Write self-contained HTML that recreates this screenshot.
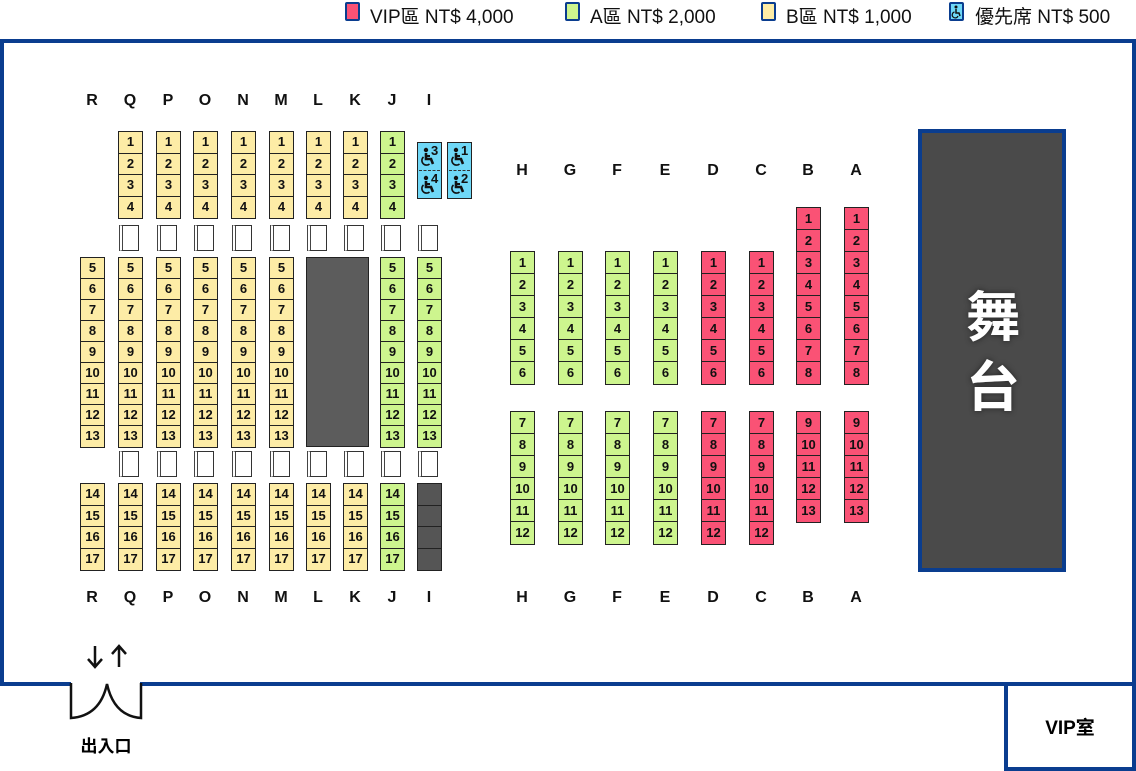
<!DOCTYPE html>
<html><head><meta charset="utf-8">
<style>
html,body{margin:0;padding:0;background:#fff;}
#c{position:relative;width:1136px;height:771px;overflow:hidden;font-family:"Liberation Sans","Noto Sans CJK TC",sans-serif;}
.a{position:absolute;box-sizing:border-box;}
.s{position:absolute;box-sizing:border-box;border:1.5px solid #222;font-size:13px;font-weight:bold;text-align:center;color:#111;}
.lbl{position:absolute;font-size:16px;font-weight:bold;width:30px;text-align:center;color:#111;}
.ch{position:absolute;box-sizing:border-box;width:20px;height:26px;border:1.5px solid #333;border-left:4px double #444;background:#fff;}
.lg{position:absolute;top:2px;font-size:19px;color:#111;white-space:nowrap;}
.sq{position:absolute;top:2px;width:15px;height:19px;border:2px solid #0a3d8f;border-radius:2px;box-sizing:border-box;}
</style></head><body><div id="c">
<div class="sq" style="left:345px;background:#fa5275"></div><div class="lg" style="left:370px">VIP區 NT$ 4,000</div>
<div class="sq" style="left:565px;background:#cdf58e"></div><div class="lg" style="left:590px">A區 NT$ 2,000</div>
<div class="sq" style="left:761px;background:#fdeca6"></div><div class="lg" style="left:786px">B區 NT$ 1,000</div>
<div class="sq" style="left:949px;background:#6fd8f7"><svg width="11" height="15" viewBox="0 0 11 15" style="position:absolute;left:0;top:0"><circle cx="5" cy="3" r="1.5" fill="#111"/><path d="M5 5 V9 H8 L9 12" stroke="#111" stroke-width="1.5" fill="none"/><path d="M3.5 8 A3 3 0 1 0 7 12" stroke="#111" stroke-width="1.2" fill="none"/></svg></div><div class="lg" style="left:975px">優先席 NT$ 500</div>
<div class="a" style="left:0;top:39px;width:1136px;height:4px;background:#0a3d8f"></div>
<div class="a" style="left:0;top:39px;width:4px;height:647px;background:#0a3d8f"></div>
<div class="a" style="left:1132px;top:39px;width:4px;height:732px;background:#0a3d8f"></div>
<div class="a" style="left:0;top:682px;width:71px;height:4px;background:#0a3d8f"></div>
<div class="a" style="left:140px;top:682px;width:996px;height:4px;background:#0a3d8f"></div>
<div class="a" style="left:1004px;top:682px;width:4px;height:89px;background:#0a3d8f"></div>
<div class="a" style="left:1004px;top:767px;width:132px;height:4px;background:#0a3d8f"></div>
<div class="a" style="left:1008px;top:713px;width:124px;text-align:center;font-size:19px;font-weight:bold">VIP室</div>
<svg class="a" style="left:0;top:640px" width="200" height="131">
<path d="M71 43 V78 Q100 76 107 44 Q114 76 141 78 V43" fill="none" stroke="#111" stroke-width="2.5"/>
<path d="M95 6 V27 M88 19 L95 27 L102 19 M119 27 V6 M112 14 L119 6 L126 14" fill="none" stroke="#111" stroke-width="2.5"/>
<text x="106" y="112" text-anchor="middle" font-size="17" font-weight="bold" font-family="Liberation Sans,Noto Sans CJK TC,sans-serif">出入口</text>
</svg>
<div class="a" style="left:918px;top:129px;width:148px;height:443px;background:#4a4a4a;border:4px solid #0a3d8f"></div>
<div class="a" style="left:940px;top:278px;width:106px;text-align:center;color:#fff;font-size:54px;font-weight:bold;line-height:70px;font-family:'Noto Sans CJK TC',sans-serif;text-shadow:0 0 6px #222">舞<br>台</div>
</div>
<script>
var c=document.getElementById('c');
function add(h){c.insertAdjacentHTML('beforeend',h);}
var Y='#fdeca6',G='#cdf58e',R='#fa5275',B='#6fd8f7';
function col(cx,y0,from,to,h,color){
  for(var i=from;i<=to;i++){var y=y0+(i-from)*h;
    add('<div class="s" style="left:'+(cx-12)+'px;top:'+y+'px;width:25px;height:'+(h+1.5)+'px;line-height:'+(h-1)+'px;background:'+color+'">'+i+'</div>');}
}
var L=['R','Q','P','O','N','M','L','K','J','I'];
var LX=[92,130,168,205,243,281,318,355,392,429];
for(var k=0;k<10;k++){
  var x=LX[k],l=L[k];
  add('<div class="lbl" style="left:'+(x-15)+'px;top:92px">'+l+'</div>');
  add('<div class="lbl" style="left:'+(x-15)+'px;top:589px">'+l+'</div>');
  var color=(l=='J'||l=='I')?G:Y;
  if(k>=1&&k<=8) col(x,131,1,4,21.7,color);
  if(k>=1){add('<div class="ch" style="left:'+(x-11)+'px;top:225px"></div>');add('<div class="ch" style="left:'+(x-11)+'px;top:451px"></div>');}
  if(l!='L'&&l!='K') col(x,257,5,13,21,color);
  if(l!='I') col(x,483,14,17,21.7,color);
  else for(var i=0;i<4;i++) add('<div class="s" style="left:417px;top:'+(483+i*21.7)+'px;width:25px;height:23px;background:#555"></div>');
}
add('<div class="a" style="left:306px;top:257px;width:63px;height:190px;background:#5c5c5c;border:1.5px solid #222"></div>');
function wc(x,y,n){
  return '<svg class="a" style="left:'+x+'px;top:'+y+'px" width="22" height="24" viewBox="0 0 22 24">'+
  '<circle cx="7" cy="6" r="2.2" fill="#111"/>'+
  '<path d="M7 9 V15 H12 L14 20" stroke="#111" stroke-width="2.6" fill="none"/>'+
  '<path d="M7 12 H11" stroke="#111" stroke-width="2" fill="none"/>'+
  '<path d="M4.5 13 A4.5 4.5 0 1 0 10.5 20" stroke="#111" stroke-width="1.6" fill="none"/>'+
  '<text x="12" y="11" font-size="13" font-weight="bold" font-family="Liberation Sans,sans-serif" fill="#111">'+n+'</text></svg>';
}
[[417,3,4],[447,1,2]].forEach(function(w){
  add('<div class="a" style="left:'+w[0]+'px;top:142px;width:25px;height:57px;background:'+B+';border:1.5px solid #222"></div>');
  add('<div class="a" style="left:'+(w[0]+2)+'px;top:170px;width:21px;border-top:1.5px dashed #333"></div>');
  add(wc(w[0]+2,144,w[1]));
  add(wc(w[0]+2,172,w[2]));
});
var RL=['H','G','F','E','D','C','B','A'],RX=[522,570,617,665,713,761,808,856];
for(var k=0;k<8;k++){
  var x=RX[k];
  add('<div class="lbl" style="left:'+(x-15)+'px;top:162px">'+RL[k]+'</div>');
  add('<div class="lbl" style="left:'+(x-15)+'px;top:589px">'+RL[k]+'</div>');
  var color=k<4?G:R;
  if(k<6){col(x,251,1,6,22,color);col(x,411,7,12,22,color);}
  else{col(x,207,1,8,22,color);col(x,411,9,13,22,color);}
}
</script>
</body></html>
